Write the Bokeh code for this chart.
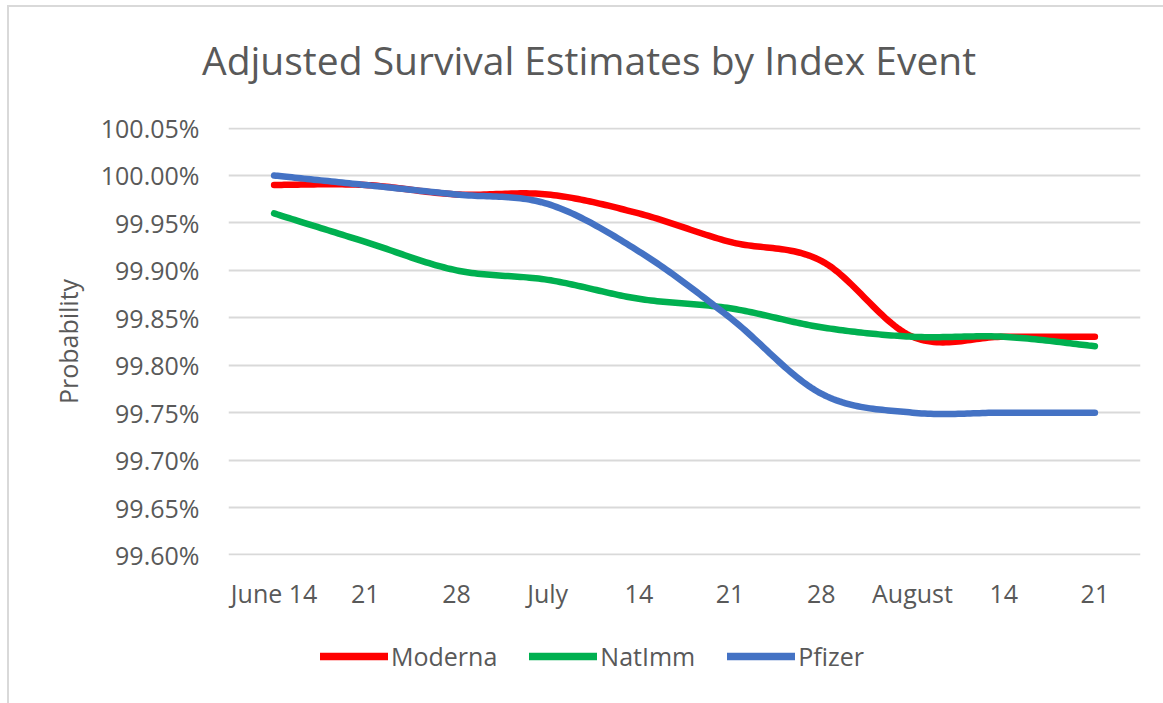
import numpy as np
from bokeh.plotting import figure
from bokeh.layouts import column
from bokeh.models import Div, FixedTicker, Legend, LegendItem, PrintfTickFormatter, Range1d
from bokeh.embed import file_html
from bokeh.resources import INLINE

title_text = "Adjusted Survival Estimates by Index Event"
dates = ["June 14", "21", "28", "July", "14", "21", "28", "August", "14", "21"]
moderna = [99.99, 99.99, 99.98, 99.98, 99.96, 99.93, 99.91, 99.83, 99.83, 99.83]
natimm = [99.96, 99.93, 99.90, 99.89, 99.87, 99.86, 99.84, 99.83, 99.83, 99.82]
pfizer = [100.00, 99.99, 99.98, 99.97, 99.92, 99.85, 99.77, 99.75, 99.75, 99.75]
y_ticks = [99.60, 99.65, 99.70, 99.75, 99.80, 99.85, 99.90, 99.95, 100.00, 100.05]

series = [("Moderna", moderna, "#FF0000"), ("NatImm", natimm, "#00B050"), ("Pfizer", pfizer, "#4472C4")]

TXT = "#595959"
FONT = "Open Sans"
LW = 6.5


def smooth(xs, ys, n=30):
    # Excel-like smoothed line (Catmull-Rom converted to cubic Bezier)
    xs = np.asarray(xs, float)
    ys = np.asarray(ys, float)
    px, py = [], []
    m = len(xs)
    for i in range(m - 1):
        i0 = max(i - 1, 0)
        i3 = min(i + 2, m - 1)
        p0 = np.array([xs[i], ys[i]])
        p1 = np.array([xs[i + 1], ys[i + 1]])
        c0 = p0 + (np.array([xs[i + 1], ys[i + 1]]) - np.array([xs[i0], ys[i0]])) / 6.0
        c1 = p1 - (np.array([xs[i3], ys[i3]]) - np.array([xs[i], ys[i]])) / 6.0
        t = np.linspace(0, 1, n, endpoint=(i == m - 2))
        b = ((1 - t) ** 3)[:, None] * p0 + (3 * (1 - t) ** 2 * t)[:, None] * c0 + \
            (3 * (1 - t) * t ** 2)[:, None] * c1 + (t ** 3)[:, None] * p1
        px.extend(b[:, 0])
        py.extend(b[:, 1])
    return px, py


xidx = list(range(len(dates)))
pad = 0.0006

W = 1154
H0 = 100
H1 = 518
H2 = 78

# title strip
head = Div(text=(f'<div style="margin:0;padding:33px 0 0 193px;font-family:\'{FONT}\';'
                 f'font-size:39px;line-height:39px;color:{TXT};white-space:nowrap;">{title_text}</div>'),
           width=W, height=H0, margin=0)

p = figure(width=W, height=H1, output_backend="svg", toolbar_location=None,
           x_range=Range1d(-0.5, len(dates) - 0.5),
           y_range=Range1d(y_ticks[0] - pad, y_ticks[-1] + pad),
           min_border_left=219, min_border_right=23, min_border_top=20, min_border_bottom=70,
           background_fill_color="white", border_fill_color="white")
p.outline_line_color = None

for name, vals, col in series:
    sx, sy = smooth(xidx, vals)
    p.line(sx, sy, line_color=col, line_width=LW, line_cap="round", line_join="round")

p.xaxis.ticker = FixedTicker(ticks=xidx)
p.xaxis.major_label_overrides = {i: d for i, d in enumerate(dates)}
p.xaxis.axis_line_color = None
p.xaxis.major_tick_line_color = None
p.xaxis.minor_tick_line_color = None
p.xaxis.major_label_text_font = FONT
p.xaxis.major_label_text_font_size = "25px"
p.xaxis.major_label_text_color = TXT
p.xaxis.major_label_standoff = 14

p.yaxis.ticker = FixedTicker(ticks=y_ticks)
p.yaxis.formatter = PrintfTickFormatter(format="%.2f%%")
p.yaxis.axis_line_color = None
p.yaxis.major_tick_line_color = None
p.yaxis.minor_tick_line_color = None
p.yaxis.major_label_text_font = FONT
p.yaxis.major_label_text_font_size = "25px"
p.yaxis.major_label_text_color = TXT
p.yaxis.major_label_standoff = 23
p.yaxis.axis_label = "Probability"
p.yaxis.axis_label_text_font = FONT
p.yaxis.axis_label_text_font_size = "25px"
p.yaxis.axis_label_text_font_style = "normal"
p.yaxis.axis_label_text_color = TXT
p.yaxis.axis_label_standoff = 13

p.xgrid.grid_line_color = None
p.ygrid.grid_line_color = "#D9D9D9"
p.ygrid.grid_line_width = 2

# legend strip below the chart (its frame is aligned with the chart's frame)
lf = figure(width=W, height=H2, output_backend="svg", toolbar_location=None,
            x_range=Range1d(-0.5, len(dates) - 0.5), y_range=Range1d(0, 1),
            min_border=0, background_fill_color="white", border_fill_color="white")
lf.outline_line_color = None
lf.axis.visible = False
lf.grid.visible = False
items = []
for name, vals, col in series:
    # same series, drawn outside this strip's visible range: only its legend glyph shows
    r = lf.line(xidx, vals, line_color=col, line_width=LW + 1, line_cap="round")
    items.append(LegendItem(label=name, renderers=[r]))

legend = Legend(items=items, orientation="horizontal", location=(92, 30),
                glyph_width=68, glyph_height=10, label_standoff=3, spacing=32,
                label_text_font=FONT, label_text_font_size="25px", label_text_color=TXT,
                border_line_color=None, background_fill_alpha=0, padding=0, margin=0)
lf.add_layout(legend, "center")

layout = column(head, p, lf, spacing=0)
layout.styles = {"margin-left": "7px", "margin-top": "5px",
                 "border-top": "2px solid #d9d9d9", "border-left": "2px solid #d9d9d9"}

open("out.html", "w").write(file_html(layout, INLINE))
